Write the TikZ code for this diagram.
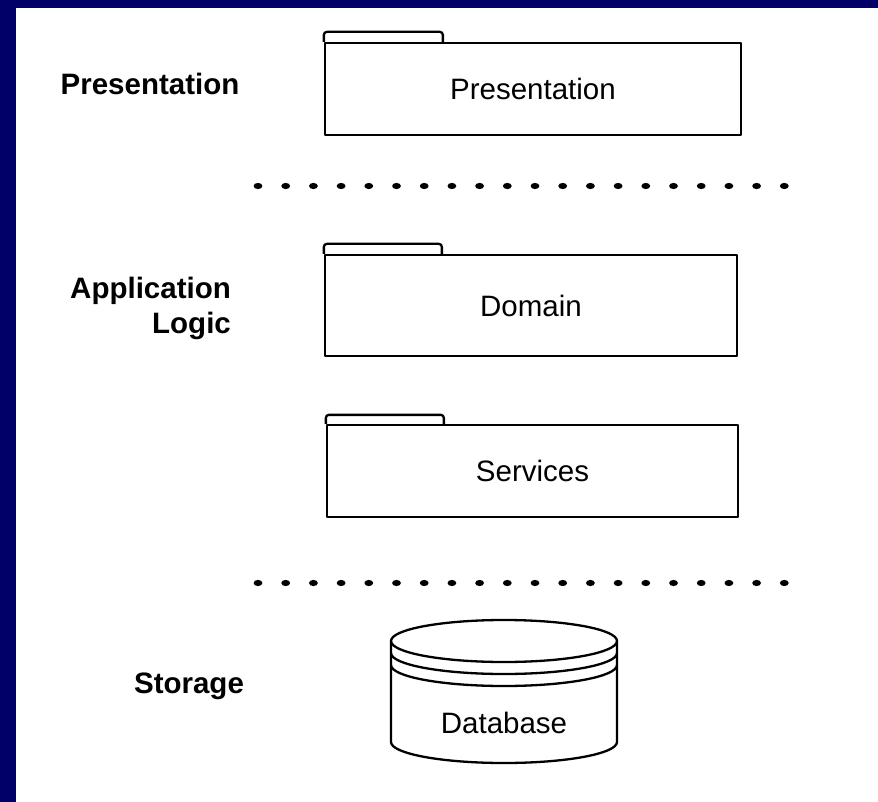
\documentclass[tikz,border=0pt]{standalone}
\usepackage{fontspec}
\setmainfont{Liberation Sans}
\definecolor{framenavy}{RGB}{0,0,104}
\begin{document}
\begin{tikzpicture}[x=1pt,y=-1pt,line width=2.3pt,line join=round,
  pkg/.style={draw,inner sep=0pt,font=\fontsize{29.5}{35}\selectfont},
  lbl/.style={inner sep=0pt,font=\fontsize{29.5}{35}\selectfont\bfseries},
  tab/.style={rounded corners=3pt},
  sepdot/.style={fill=black}]
\useasboundingbox (0,0) rectangle (878,802);
\fill[white] (0,0) rectangle (878,802);
\fill[framenavy] (0,0) rectangle (878,8);
\fill[framenavy] (0,0) rectangle (16,802);

% layer labels
\node[lbl] (lpres) at (150,84) {Presentation};
\node[lbl,align=right,anchor=east] (lapp) at (232,308) {Application\\Logic};
\node[lbl] (lstor) at (189,686) {Storage};

% packages
\node[pkg,minimum width=416pt,minimum height=92pt] (pres) at (533,89) {Presentation};
\draw[tab] (pres.north west) -- ++(0,-10) -- ++(119,0) -- ++(0,10);
\node[pkg,minimum width=412pt,minimum height=101pt] (dom) at (531,305.5) {Domain};
\draw[tab] (dom.north west) -- ++(0,-10) -- ++(118,0) -- ++(0,10);
\node[pkg,minimum width=411pt,minimum height=92pt] (serv) at (532.5,471) {Services};
\draw[tab] (serv.north west) -- ++(0,-9) -- ++(118,0) -- ++(0,9);

% separators
\foreach \i in {0,...,19} {
  \fill[sepdot] (258+\i*27.7,186) ellipse[x radius=4.4pt,y radius=3.1pt];
  \fill[sepdot] (258+\i*27.7,583) ellipse[x radius=4.4pt,y radius=3.1pt];
}

% database
\draw (504,641) ellipse[x radius=113pt,y radius=21pt];
\draw (391,641) -- (391,742) arc[start angle=180,end angle=0,x radius=113,y radius=21] -- (617,641);
\draw (391,653) arc[start angle=180,end angle=0,x radius=113,y radius=21];
\draw (391,665) arc[start angle=180,end angle=0,x radius=113,y radius=21];
\node[inner sep=0pt,font=\fontsize{29.5}{35}\selectfont] (db) at (504,723) {Database};
\end{tikzpicture}
\end{document}
